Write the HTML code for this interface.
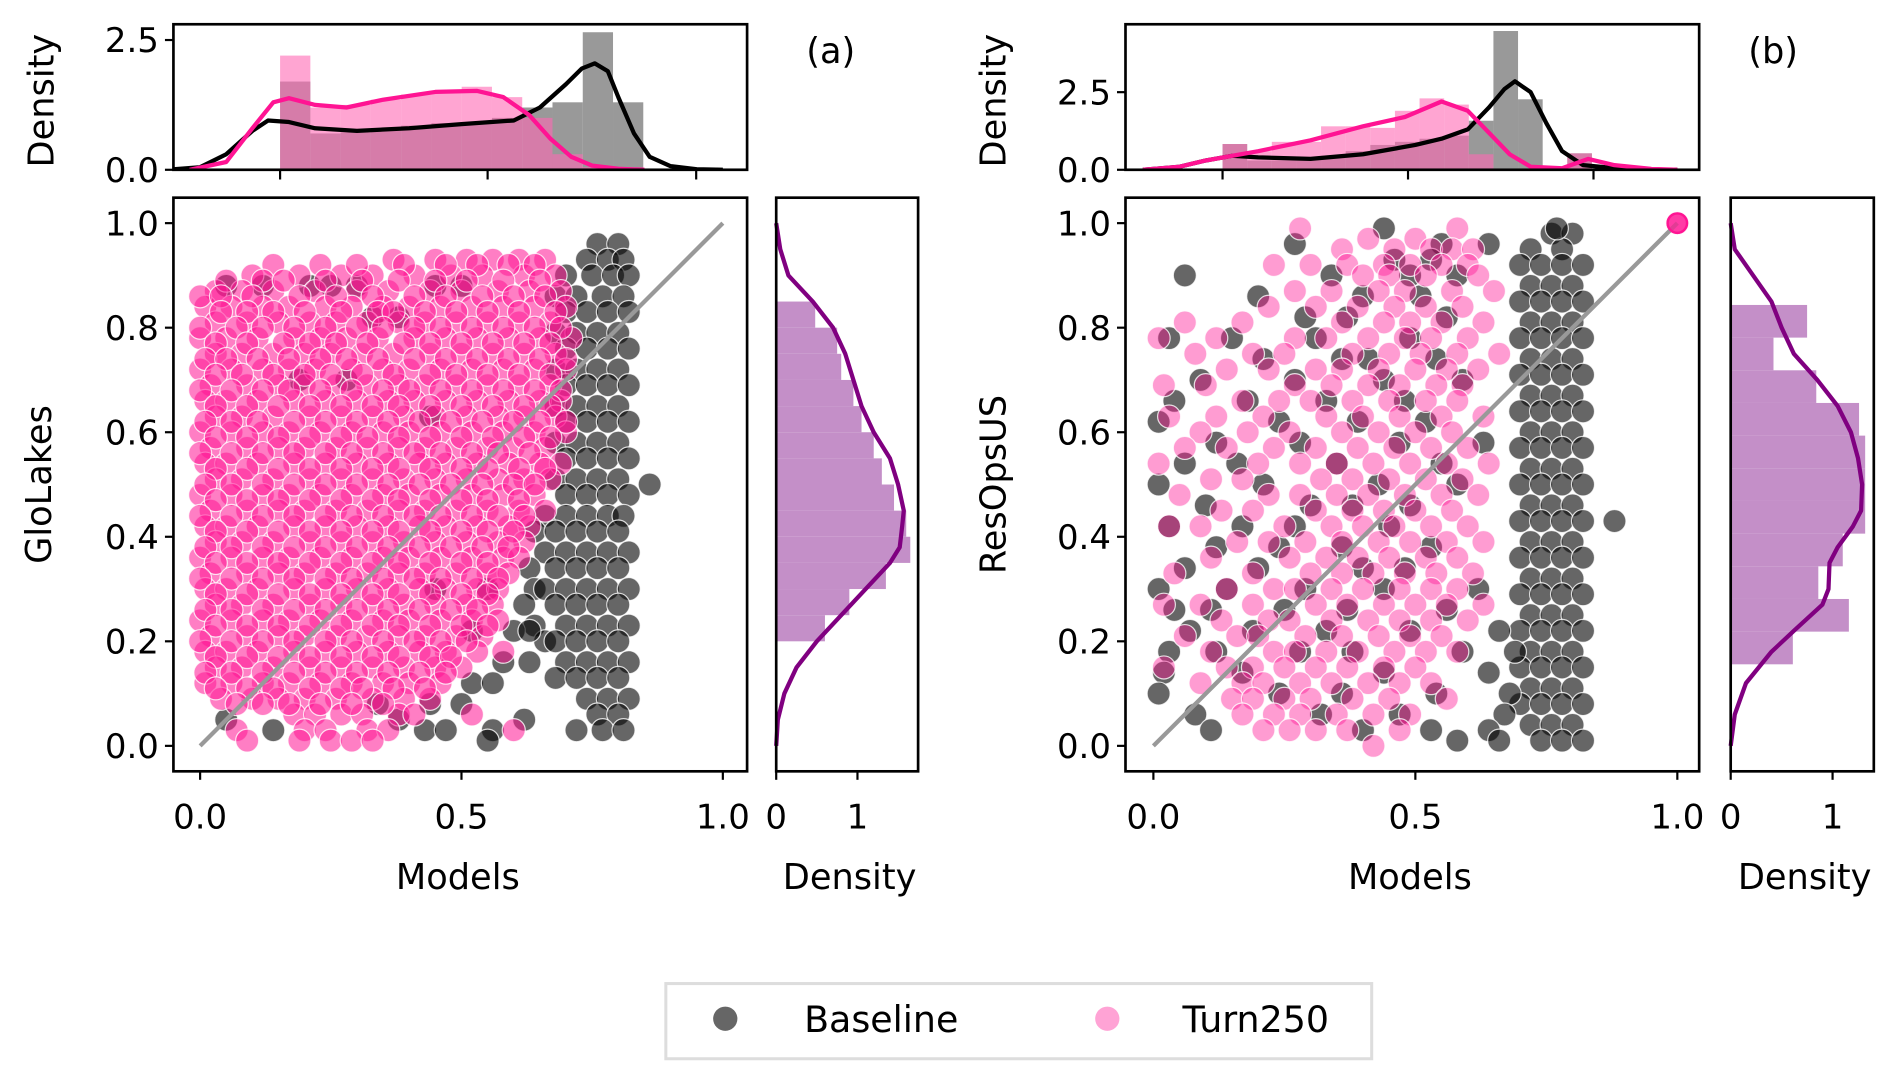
<!DOCTYPE html>
<html><head><meta charset="utf-8">
<style>
html,body{margin:0;padding:0;background:#fff;}
svg{display:block;font-family:"DejaVu Sans","Liberation Sans",sans-serif;}
</style></head>
<body>
<svg id="fig" width="1892" height="1075" viewBox="0 0 1560 886.4" preserveAspectRatio="none" xmlns="http://www.w3.org/2000/svg">
<rect width="1560" height="886.4" fill="#fff"/>
</svg>
<script>
// ---------- DATA ----------
// scatter rows: "y:x x x" in hundredths
const scatterA_baseline = ["96:76 80","93:74 78 81","90:70 75 79 82","86:68 72 77 81","83:70 74 78 82","79:68 72 76 80","76:70 74 78 82","72:68 72 76 80","69:70 74 78 82","65:68 72 76 80","62:70 74 78 82","58:68 72 76 80","55:70 74 78 82","51:68 72 76 80","48:70 74 78 82","44:66 70 74 78 81","41:64 68 72 76 80","37:66 70 74 78 82","34:63 68 72 76 80","30:64 66 70 74 78 82","27:62 68 72 76 80","23:64 70 74 78 82","20:66 68 72 76 80","16:70 74 78 82","13:68 72 76 80","09:74 78 82","06:76 80","03:72 77 81","88:05 12 21 25 30 45 50","82:33 38","70:19 28","63:44","50:86","30:45 55","22:52 60 63","16:58 63","12:52 56","08:34 44 50","05:05 38 62","03:14 43 47 56","01:55"];
const scatterA_turn = ["93:37 45 51 56 61 66","90:10 19 27 33 41 48 54 62 68","87:03 08 14 22 30 36 44 50 57 63 69","84:01 06 12 17 24 29 35 40 46 52 58 64 70","81:03 09 15 21 26 32 38 43 49 55 61 67","78:00 05 11 18 23 28 34 41 47 53 59 65 71","75:03 08 14 20 25 31 37 44 50 56 62 68","72:00 06 12 17 22 29 35 40 46 52 58 64 70","69:02 09 15 20 26 32 38 43 49 55 61 67","66:01 05 11 18 24 30 36 41 47 53 59 65 69","63:03 08 14 21 27 33 39 45 51 57 62 68","60:00 06 12 17 23 29 35 40 46 52 58 64 70","57:02 09 15 20 26 32 38 43 49 55 60 66","54:01 05 11 18 24 30 36 42 47 53 59 65 69","51:03 08 14 21 27 33 39 45 51 57 62 67","48:00 06 12 17 23 29 35 40 46 52 58 64","45:02 09 15 20 26 32 38 43 49 55 61 66","42:01 05 11 18 24 30 36 42 47 53 59 63","39:03 08 14 21 27 33 39 45 51 57 62","36:00 06 12 17 23 29 35 40 46 52 58 61","33:02 09 15 20 26 32 38 43 49 55 59","30:01 05 11 18 24 30 36 42 47 53 57","27:03 08 14 21 27 33 39 45 51 56","24:00 06 12 17 23 29 35 40 46 52 57","21:02 09 15 20 26 32 38 43 49 54","18:01 05 11 18 24 30 36 42 47 53 58","15:03 08 14 21 27 33 39 45 50","12:01 06 12 17 23 29 35 40 46","09:04 10 15 20 26 33 39 44","06:18 22 27 31 38 41 52","03:07 20 24 32 36 60","01:09 19 25 29 33",
"92:14 23 30 39 47 53 59 64","89:05 12 16 24 31 38 45 51 58 65","86:00 04 10 19 26 33 41 47 54 60 66","83:04 09 14 20 27 34 37 43 49 55 61 68","80:00 07 12 18 24 30 35 41 46 52 58 64 69","77:03 09 16 21 26 32 39 44 50 56 62 67","74:01 05 11 17 23 28 34 41 47 53 59 65 70","71:03 08 14 20 25 31 37 44 49 55 61 67","68:00 06 12 17 23 29 35 40 46 52 58 64 69","65:03 09 15 21 27 33 38 44 50 56 62 67","62:01 06 11 18 24 30 36 42 48 54 60 65 70","59:03 09 15 21 27 32 38 44 50 56 62 67","56:00 06 12 18 24 29 35 41 46 52 57 63","53:03 09 15 21 27 33 38 44 50 55 61 66","50:01 06 12 18 24 30 36 42 48 54 60 64","47:03 09 15 21 27 33 38 44 50 55 61","44:00 06 12 18 24 29 35 41 46 52 57 62","41:03 09 15 21 27 33 38 44 50 55 60","38:01 06 12 18 24 30 36 42 48 54 59","35:03 09 15 21 27 33 38 44 50 55","32:00 06 12 18 24 29 35 41 46 52 57","29:03 09 15 21 27 33 38 44 50 55","26:01 06 12 18 24 30 36 42 48 53","23:03 09 15 21 27 33 38 44 50 55","20:00 06 12 18 24 29 35 41 46 51","17:03 09 15 21 27 33 38 44 48","14:01 06 12 18 24 30 36 42 47","11:03 09 14 21 27 31 37 43","08:07 12 17 23 29 35"];
const scatterB_baseline = ["98:76 80","95:72 78","92:70 74 78 82","88:72 76 80","85:70 74 78 82","81:72 76 80","78:70 74 78 82","74:72 76 80","71:70 74 78 82","67:72 76 80","64:70 74 78 82","60:72 76 80","57:70 74 78 82","53:72 76 80","50:70 74 78 82","46:72 76 80","43:70 74 78 82","39:72 76 80","36:70 74 78 82","32:72 76 80","29:70 74 78 82","25:72 76 80","22:70 74 78 82","18:72 76 80","15:70 74 78 82","11:72 76 80","08:70 74 78 82","04:72 76 80","01:74 78 82","99:44 77","96:27 55 64","93:46 53","90:06 34 49 58","86:20 40 51","82:29 37 56","78:03 15 31 49","74:21 36 41 54","70:09 27 44 59","66:04 18 33 48","62:01 24 39 52","58:12 28 47 63","54:06 16 35 55","50:01 21 43 58","46:10 30 38 49","42:03 17 27 45","38:12 24 36 53","34:06 20 40 48","30:01 14 29 44 62","26:04 11 25 37 56","22:07 19 33 49 66","18:03 12 28 38 59 69","14:02 17 44 64","10:01 24 36 54 68","06:08 32 47 67","03:11 40 53 64","01:58 66","43:88"];
const scatterB_turn = ["99:28 58","97:41 50","95:36 46 53 57 61","92:23 30 37 44 49 55 60","90:40 45 52 62","87:27 34 43 48 57 65","84:22 31 39 46 52 59","81:06 17 36 44 49 55 63","78:01 12 27 33 41 48 53 60","75:08 19 25 38 45 51 58 66","72:14 22 31 36 43 50 56 62","69:02 10 27 34 41 47 54 59","66:17 24 30 38 45 52 58","63:03 12 21 33 40 47 55 63","60:09 18 26 36 43 50 57","57:06 14 23 31 39 46 53 60","54:01 20 28 35 42 49 56 64","51:11 17 32 38 45 52 59","48:05 22 28 35 41 48 55 62","45:13 19 31 38 44 50 57","42:03 09 25 34 40 46 53 60","39:16 22 29 36 43 49 56 63","36:11 26 33 39 45 52 58","33:04 19 30 36 42 48 54 61","30:14 23 27 34 40 47 53 58","27:02 09 19 31 37 44 50 56 63","24:13 22 26 34 41 47 53 60","21:06 16 20 29 36 43 49 55","18:11 23 27 33 39 46 52 58","15:02 14 19 25 31 37 44 50","12:09 17 21 28 34 41 47 53","09:15 19 25 30 38 45 56","06:17 23 28 35 42 49","03:21 26 31 37 47","00:42","100:100"];

// top marginal KDEs: [model value, density]
const topA_base_x = [-0.05,0,0.05,0.1,0.13,0.17,0.22,0.3,0.4,0.5,0.6,0.65,0.7,0.73,0.755,0.78,0.8,0.83,0.86,0.9,0.95,1.0];
const topA_base_y = [0.01,0.05,0.3,0.75,0.95,0.92,0.8,0.75,0.8,0.88,0.95,1.2,1.65,1.95,2.05,1.9,1.4,0.7,0.25,0.07,0.01,0];
const topA_turn_x = [-0.02,0.05,0.1,0.14,0.17,0.22,0.28,0.35,0.45,0.53,0.58,0.63,0.67,0.71,0.75,0.8,0.85];
const topA_turn_y = [0,0.15,0.8,1.3,1.38,1.25,1.2,1.35,1.5,1.52,1.4,1.05,0.6,0.25,0.08,0.02,0];
const topA_bin_start = 0.153, topA_bin_w = 0.0579;
const topA_hist_turn = [2.2,1.2,1.25,1.35,1.45,1.5,1.6,1.4,1.0,0.3,0.05,0.0];
const topA_hist_base = [1.7,0.7,0.72,0.8,0.85,0.9,0.9,1.0,1.2,1.3,2.65,1.3];

const topB_base_x = [-0.02,0.05,0.1,0.15,0.2,0.3,0.4,0.5,0.55,0.6,0.64,0.67,0.69,0.72,0.75,0.78,0.82,0.9,1.0];
const topB_base_y = [0,0.1,0.3,0.45,0.4,0.35,0.5,0.8,1.0,1.3,2.0,2.6,2.85,2.5,1.5,0.6,0.15,0.02,0];
const topB_turn_x = [-0.02,0.05,0.1,0.2,0.3,0.4,0.48,0.55,0.6,0.64,0.68,0.72,0.78,0.83,0.88,0.95,1.0];
const topB_turn_y = [0,0.1,0.3,0.6,0.95,1.4,1.7,2.2,1.9,1.2,0.5,0.1,0.05,0.35,0.15,0.03,0];
const topB_bin_start = 0.132, topB_bin_w = 0.047;
const topB_hist_turn = [0.83,0.6,0.9,0.9,1.4,1.4,1.35,1.9,2.3,2.1,0.5,0,0,0,0.53];
const topB_hist_base = [0.83,0.3,0.3,0.4,0.45,0.6,0.8,0.9,1.0,1.1,1.58,4.47,2.27,0,0.53];

// right marginal KDEs: [y value, density]
const rightA_y = [1.0,0.95,0.9,0.85,0.8,0.75,0.7,0.65,0.6,0.55,0.5,0.45,0.42,0.38,0.35,0.3,0.25,0.2,0.15,0.1,0.05,0];
const rightA_d = [0,0.05,0.15,0.45,0.7,0.85,0.95,1.05,1.2,1.4,1.5,1.57,1.55,1.52,1.4,1.1,0.8,0.5,0.25,0.1,0.02,0];
const rightA_bin_start = 0.2, rightA_bin_w = 0.05;
const rightA_hist = [0.6,0.9,1.35,1.65,1.6,1.45,1.3,1.2,1.05,0.95,0.8,0.75,0.48];

const rightB_y = [1.0,0.95,0.9,0.85,0.8,0.75,0.7,0.65,0.6,0.55,0.5,0.45,0.42,0.38,0.35,0.3,0.27,0.22,0.18,0.12,0.06,0];
const rightB_d = [0,0.04,0.22,0.4,0.5,0.62,0.85,1.05,1.18,1.25,1.29,1.28,1.2,1.05,0.97,0.96,0.9,0.62,0.4,0.15,0.04,0];
const rightB_bin_start = 0.156, rightB_bin_w = 0.0625;
const rightB_hist = [0.61,1.16,0.86,1.1,1.32,1.32,1.32,1.26,0.84,0.42,0.75];

const scatterTicks = [0,0.2,0.4,0.6,0.8,1.0];
const scatterTickLabels = ["0.0","0.2","0.4","0.6","0.8","1.0"];
const xTicks = [0,0.5,1.0];
const xTickLabels = ["0.0","0.5","1.0"];

// ---------- DRAW ----------
const NS="http://www.w3.org/2000/svg";
const svg=document.getElementById('fig');
function el(tag,attrs,parent){const e=document.createElementNS(NS,tag);for(const k in attrs)e.setAttribute(k,attrs[k]);(parent||svg).appendChild(e);return e;}
function txt(s,x,y,size,anchor,parent,rot){const t=el('text',{x:x,y:y,'font-size':size,'text-anchor':anchor||'middle',fill:'#000'},parent);if(rot)t.setAttribute('transform','rotate(-90 '+x+' '+y+')');t.textContent=s;return t;}
function parseRows(rows){const pts=[];rows.forEach(r=>{const [ys,xs]=r.split(':');const y=+ys/100;xs.trim().split(/\s+/).forEach(x=>pts.push([+x/100,y]));});return pts;}

function panel(P){
  const g=el('g',{});
  
  
  const sx=v=>P.x0+v*(P.x1-P.x0), sy=v=>P.y0+v*(P.y1-P.y0);
  const clipId=P.name+'-clip';
  const cp=el('clipPath',{id:clipId},g);el('rect',{x:P.L,y:P.T,width:P.R-P.L,height:P.B-P.T},cp);
  const sg=el('g',{'clip-path':'url(#'+clipId+')'},g);
  
  
  parseRows(P.base).forEach(p=>{const c=el('circle',{cx:sx(p[0]),cy:sy(p[1]),r:9.5,fill:'#000','fill-opacity':0.6,stroke:'#fff','stroke-width':1,'stroke-opacity':0.8},sg);
    
    });
  parseRows(P.turn).forEach(p=>{const c=el('circle',{cx:sx(p[0]),cy:sy(p[1]),r:9.5,fill:'#ff1493','fill-opacity':P.pinkOp,stroke:'#fff','stroke-width':1,'stroke-opacity':0.8},sg);
    
    });
  const dl=el('line',{x1:sx(0),y1:sy(0),x2:sx(1),y2:sy(1),stroke:'#999','stroke-width':3.5},g);
  
  
  el('rect',{x:P.L,y:P.T,width:P.R-P.L,height:P.B-P.T,fill:'none',stroke:'#000','stroke-width':2.2},g);
  scatterTicks.forEach((v,i)=>{el('line',{x1:P.L-7,x2:P.L,y1:sy(v),y2:sy(v),stroke:'#000','stroke-width':1.8},g);
    const t=txt(scatterTickLabels[i],P.L-12,sy(v)+10,28,'end',g);
    
    });
  xTicks.forEach((v,i)=>{el('line',{x1:sx(v),x2:sx(v),y1:P.B,y2:P.B+7,stroke:'#000','stroke-width':1.8},g);
    const t=txt(xTickLabels[i],sx(v),P.B+47,28,'middle',g);
    
    });
  const xl=txt('Models',(P.L+P.R)/2-2,P.B+97,29,'middle',g);
  
  
  const yl=txt(P.ylabel,P.ylx,(P.T+P.B)/2,29,'middle',g,true);
  
  

  const tg=el('g',{},g);
  
  
  const ty=d=>P.tB-d*P.tScale;
  const tcid=P.name+'-tclip';const tcp=el('clipPath',{id:tcid},tg);el('rect',{x:P.L,y:P.tT,width:P.R-P.L,height:P.tB-P.tT},tcp);
  const tin=el('g',{'clip-path':'url(#'+tcid+')'},tg);
  P.hb.forEach((d,i)=>{if(d<=0)return;const x=sx(P.bs+i*P.bw);const r=el('rect',{x:x,y:ty(d),width:sx(P.bs+(i+1)*P.bw)-x,height:P.tB-ty(d),fill:'#808080','fill-opacity':0.8},tin);
    
    });
  P.ht.forEach((d,i)=>{if(d<=0)return;const x=sx(P.bs+i*P.bw);const r=el('rect',{x:x,y:ty(d),width:sx(P.bs+(i+1)*P.bw)-x,height:P.tB-ty(d),fill:'#ff69b4','fill-opacity':0.6},tin);
    
    });
  const pb=el('polyline',{points:P.kbx.map((v,i)=>sx(v)+','+ty(P.kby[i])).join(' '),fill:'none',stroke:'#000','stroke-width':3.5,'stroke-linejoin':'round'},tin);
  
  
  const pt=el('polyline',{points:P.ktx.map((v,i)=>sx(v)+','+ty(P.kty[i])).join(' '),fill:'none',stroke:'#ff1493','stroke-width':3.5,'stroke-linejoin':'round'},tin);
  
  
  el('rect',{x:P.L,y:P.tT,width:P.R-P.L,height:P.tB-P.tT,fill:'none',stroke:'#000','stroke-width':2.2},tg);
  P.tTicks.forEach(v=>el('line',{x1:sx(v),x2:sx(v),y1:P.tB,y2:P.tB+8,stroke:'#000','stroke-width':1.8},tg));
  [[0,'0.0'],[2.5,'2.5']].forEach(a=>{el('line',{x1:P.L-7,x2:P.L,y1:ty(a[0]),y2:ty(a[0]),stroke:'#000','stroke-width':1.8},tg);
    const t=txt(a[1],P.L-12,ty(a[0])+10,28,'end',tg);
    
    });
  const dy=txt('Density',P.tYlx,(P.tT+P.tB)/2+3,29,'middle',tg,true);
  
  
  const pl=txt(P.label,P.labx,52,29,'middle',g);
  
  

  const rg=el('g',{},g);
  
  
  const rx=d=>P.rL+d*P.rScale;
  P.rh.forEach((d,i)=>{const y0=sy(P.rbs+i*P.rbw),y1=sy(P.rbs+(i+1)*P.rbw);const r=el('rect',{x:P.rL,y:y1,width:rx(d)-P.rL,height:y0-y1,fill:'#c48fc8'},rg);
    
    });
  const rp=el('polyline',{points:P.ry.map((v,i)=>rx(P.rd[i])+','+sy(v)).join(' '),fill:'none',stroke:'#800080','stroke-width':3.5,'stroke-linejoin':'round'},rg);
  
  
  el('rect',{x:P.rL,y:P.T,width:P.rR-P.rL,height:P.B-P.T,fill:'none',stroke:'#000','stroke-width':2.2},rg);
  [[0,'0'],[1,'1']].forEach(a=>{el('line',{x1:rx(a[0]),x2:rx(a[0]),y1:P.B,y2:P.B+7,stroke:'#000','stroke-width':1.8},rg);
    const t=txt(a[1],rx(a[0]),P.B+47,28,'middle',rg);
    
    });
  const rl=txt('Density',(P.rL+P.rR)/2+2,P.B+97,29,'middle',rg);
  
  
}

panel({name:'panel-a',L:143,R:616,T:163,B:636,x0:165,x1:596,y0:615,y1:184,ylabel:'GloLakes',ylx:42,pinkOp:0.55,
  base:scatterA_baseline,turn:scatterA_turn,
  tT:20,tB:140,tScale:42.8,tTicks:[0.153,0.55,0.949],tYlx:44,
  bs:topA_bin_start,bw:topA_bin_w,ht:topA_hist_turn,hb:topA_hist_base,
  kbx:topA_base_x,kby:topA_base_y,ktx:topA_turn_x,kty:topA_turn_y,label:'(a)',labx:685,
  rL:640,rR:757,rScale:67,rh:rightA_hist,rbs:rightA_bin_start,rbw:rightA_bin_w,ry:rightA_y,rd:rightA_d});
panel({name:'panel-b',L:928,R:1401,T:163,B:636,x0:951,x1:1383,y0:615,y1:184,ylabel:'ResOpsUS',ylx:829,pinkOp:0.42,
  base:scatterB_baseline,turn:scatterB_turn,
  tT:20,tB:140,tScale:25.6,tTicks:[0.132,0.486,0.84],tYlx:829,
  bs:topB_bin_start,bw:topB_bin_w,ht:topB_hist_turn,hb:topB_hist_base,
  kbx:topB_base_x,kby:topB_base_y,ktx:topB_turn_x,kty:topB_turn_y,label:'(b)',labx:1462,
  rL:1427,rR:1545,rScale:84,rh:rightB_hist,rbs:rightB_bin_start,rbw:rightB_bin_w,ry:rightB_y,rd:rightB_d});

const hp=el('circle',{cx:1383,cy:184,r:8,fill:'#ff1493','fill-opacity':0.7,stroke:'#ff1493','stroke-width':2});



const lg=el('g',{});


el('rect',{x:549,y:811,width:582,height:62,fill:'#fff',stroke:'#ddd','stroke-width':2.5},lg);
const l1=el('circle',{cx:598,cy:840,r:10,fill:'#666'},lg);


const lt1=txt('Baseline',663,851,30,'start',lg);


const l2=el('circle',{cx:913,cy:840,r:10,fill:'#ffa3d5'},lg);


const lt2=txt('Turn250',975,851,30,'start',lg);


</script>
</body></html>
